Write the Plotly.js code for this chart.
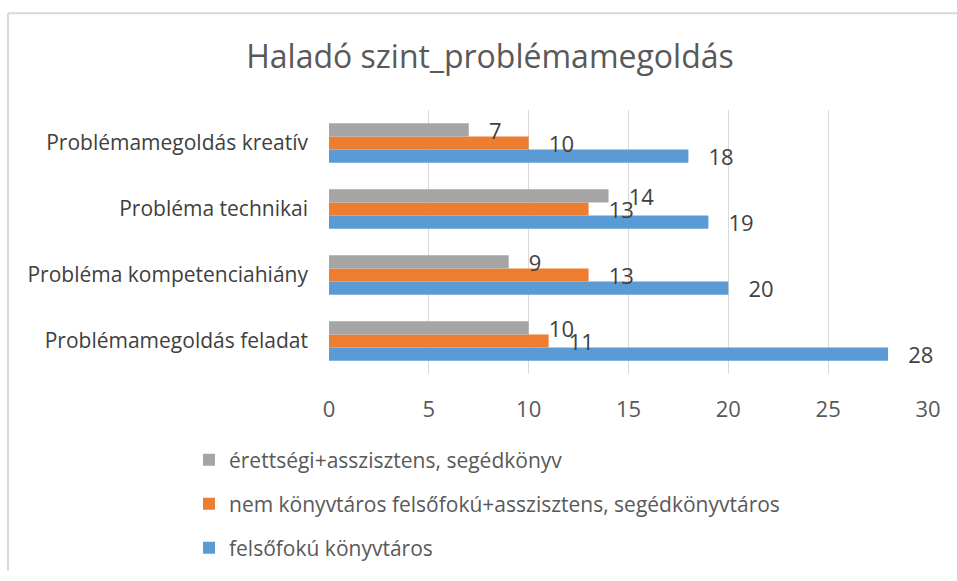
<!DOCTYPE html>
<html>
<head>
<meta charset="utf-8">
<script src="https://cdn.plot.ly/plotly-3.0.1.min.js"></script>
<style>html,body{margin:0;padding:0;background:#fff;}</style>
</head>
<body>
<div id="chart" style="width:957px;height:581px;"></div>
<script>
// Categories listed bottom-to-top as on the chart
const categories = ["Problémamegoldás feladat", "Probléma kompetenciahiány", "Probléma technikai", "Problémamegoldás kreatív"];
const seriesNames = ["felsőfokú könyvtáros", "nem könyvtáros felsőfokú+asszisztens, segédkönyvtáros", "érettségi+asszisztens, segédkönyv"];
const felsofokuKonyvtaros = [28, 20, 19, 18];
const nemKonyvtarosFelsofoku = [11, 13, 13, 10];
const erettsegiAsszisztens = [10, 9, 14, 7];
const xTicks = [0, 5, 10, 15, 20, 25, 30];

const colors = ["#5b9bd5", "#ed7d31", "#a5a5a5"];
const values = [felsofokuKonyvtaros, nemKonyvtarosFelsofoku, erettsegiAsszisztens];
const legendIds = ["legend3", "legend2", "legend"];
const font = "'Open Sans', 'Noto Sans', sans-serif";

const traces = values.map((v, i) => ({
  type: "bar",
  orientation: "h",
  name: seriesNames[i],
  legend: legendIds[i],
  y: categories,
  x: v,
  marker: {color: colors[i]},
  text: v.map(n => "\u00a0\u00a0\u00a0" + n),
  textposition: "outside",
  constraintext: "none",
  cliponaxis: false,
  textfont: {family: font, size: 22, color: "#404040"},
  hoverinfo: "x+name"
}));

const L = 329, R = 928, T = 110, B = 380, W = 957, H = 581;
const px = x => (x - L) / (R - L);
const py = y => (B - y) / (B - T);

function legendAt(center) {
  return {
    orientation: "v",
    x: px(189), xanchor: "left",
    y: py(center), yanchor: "middle",
    font: {family: font, size: 21, color: "#595959"},
    bgcolor: "rgba(0,0,0,0)",
    itemwidth: 30
  };
}

const layout = {
  width: W, height: H,
  margin: {l: L, r: W - R, t: T, b: H - B, pad: 0},
  paper_bgcolor: "#ffffff",
  plot_bgcolor: "#ffffff",
  barmode: "group",
  bargap: 0.40,
  bargroupgap: 0,
  title: {
    text: "Haladó szint_problémamegoldás",
    font: {family: font, size: 32, color: "#595959"},
    x: px(490), xanchor: "center", xref: "paper",
    y: 1 - 57 / H, yanchor: "middle", yref: "container"
  },
  xaxis: {
    range: [0, 30],
    tickvals: xTicks,
    ticktext: xTicks.map(String),
    showgrid: true, gridcolor: "#d9d9d9", gridwidth: 1,
    zeroline: false, showline: false,
    ticks: "",
    tickfont: {family: font, size: 22, color: "#595959"},
    ticklabelstandoff: 20,
    fixedrange: true
  },
  yaxis: {
    type: "category",
    showgrid: false, zeroline: false, showline: false,
    ticks: "",
    tickfont: {family: font, size: 21, color: "#404040"},
    ticklabelstandoff: 20,
    fixedrange: true
  },
  showlegend: true,
  legend: legendAt(468),
  legend2: legendAt(513),
  legend3: legendAt(558),
  shapes: [
    {type: "line", xref: "paper", yref: "paper", x0: px(8), x1: px(957), y0: py(11), y1: py(11), line: {color: "#d9d9d9", width: 2}},
    {type: "line", xref: "paper", yref: "paper", x0: px(8), x1: px(8), y0: py(11), y1: py(581), line: {color: "#d9d9d9", width: 2}}
  ]
};

Plotly.newPlot("chart", traces, layout, {displayModeBar: false, staticPlot: true});
</script>
</body>
</html>
